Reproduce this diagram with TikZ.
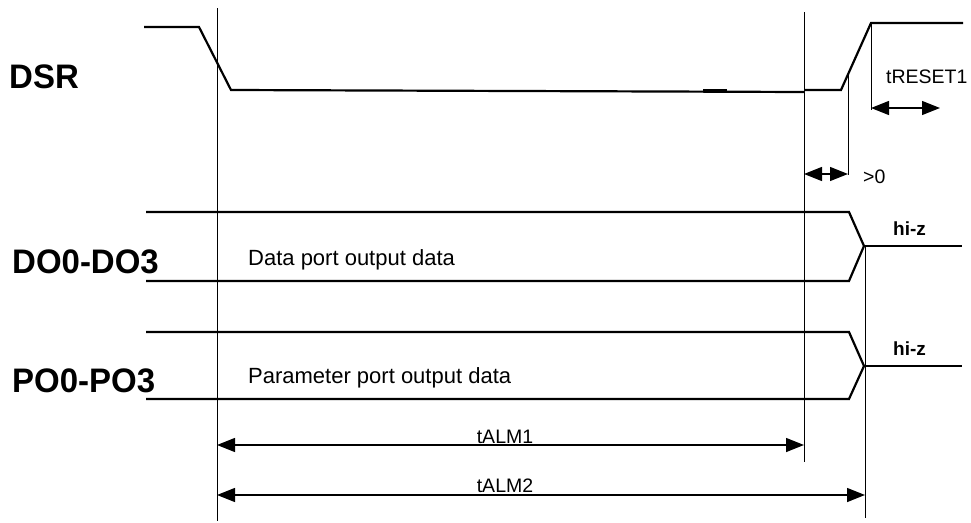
\documentclass[tikz,border=0pt]{standalone}
\usepackage{fontspec}
\setmainfont{Liberation Sans}
\usetikzlibrary{arrows.meta}
\begin{document}
\begin{tikzpicture}[x=1pt,y=-1pt,
  sig/.style={line width=2.2pt, line join=miter},
  guide/.style={line width=0.8pt},
  dimline/.style={line width=1.4pt, {Triangle[length=18pt,width=14pt]}-{Triangle[length=18pt,width=14pt]}},
  biglbl/.style={font=\bfseries\fontsize{34}{34}\selectfont, inner sep=0pt, anchor=base west, xscale=0.97},
  txt/.style={font=\fontsize{22}{22}\selectfont, inner sep=0pt, anchor=base west},
  tlbl/.style={font=\fontsize{19.5}{19.5}\selectfont, inner sep=0pt},
  hizlbl/.style={font=\bfseries\fontsize{19}{19}\selectfont, inner sep=0pt, anchor=base west}]
\useasboundingbox (0,0) rectangle (971,522);

% key coordinates
\coordinate (g1t) at (217,8);   \coordinate (g1b) at (217,521);
\coordinate (g2t) at (804,12);  \coordinate (g2b) at (804,462);
\coordinate (g3t) at (865,246); \coordinate (g3b) at (865,518);
\coordinate (g4t) at (848,75);  \coordinate (g4b) at (848,175);
\coordinate (g5t) at (871,23);  \coordinate (g5b) at (871,110);

% guide lines
\draw[guide] (g1t) -- (g1b);
\draw[guide] (g2t) -- (g2b);
\draw[guide] (g3t) -- (g3b);
\draw[guide] (g4t) -- (g4b);
\draw[guide] (g5t) -- (g5b);

% DSR waveform
\draw[sig] (144,27) -- (199,27) -- (231,90) -- (804,92);
\draw[sig] (804,90) -- (841,90) -- (g5t) -- (963,23);
\draw[sig] (703,90) -- (727,90);

% DO waveform
\draw[sig] (146,212) -- (849,212) -- (864,246) -- (849,281) -- (146,281);
\draw[sig] (864,246) -- (962,246);

% PO waveform
\draw[sig] (146,332) -- (849,332) -- (864,366) -- (849,399) -- (146,399);
\draw[sig] (864,366) -- (962,366);

% dimension arrows
\coordinate (a1l) at (217,445); \coordinate (a1r) at (804,445);
\coordinate (a2l) at (217,495); \coordinate (a2r) at (865,495);
\coordinate (a3l) at (804,174); \coordinate (a3r) at (848,174);
\coordinate (a4l) at (871,108); \coordinate (a4r) at (940,108);
\draw[dimline] (a1l) -- (a1r);
\draw[dimline] (a2l) -- (a2r);
\draw[dimline] (a3l) -- (a3r);
\draw[dimline] (a4l) -- (a4r);

% labels
\node[biglbl] (dsr) at (9,88) {DSR};
\node[biglbl] (do) at (12,273) {DO0-DO3};
\node[biglbl] (po) at (12,392) {PO0-PO3};
\node[txt] (dtxt) at (248,265) {Data port output data};
\node[txt] (ptxt) at (248,383) {Parameter port output data};
\node[tlbl, anchor=base] (talm1) at (505,443) {tALM1};
\node[tlbl, anchor=base] (talm2) at (505,492) {tALM2};
\node[tlbl, anchor=base west] (treset) at (886,83) {tRESET1};
\node[tlbl, anchor=base west] (gt0) at (863,183) {>0};
\node[hizlbl] (hiz1) at (893,235) {hi-z};
\node[hizlbl] (hiz2) at (893,355) {hi-z};
\end{tikzpicture}
\end{document}
